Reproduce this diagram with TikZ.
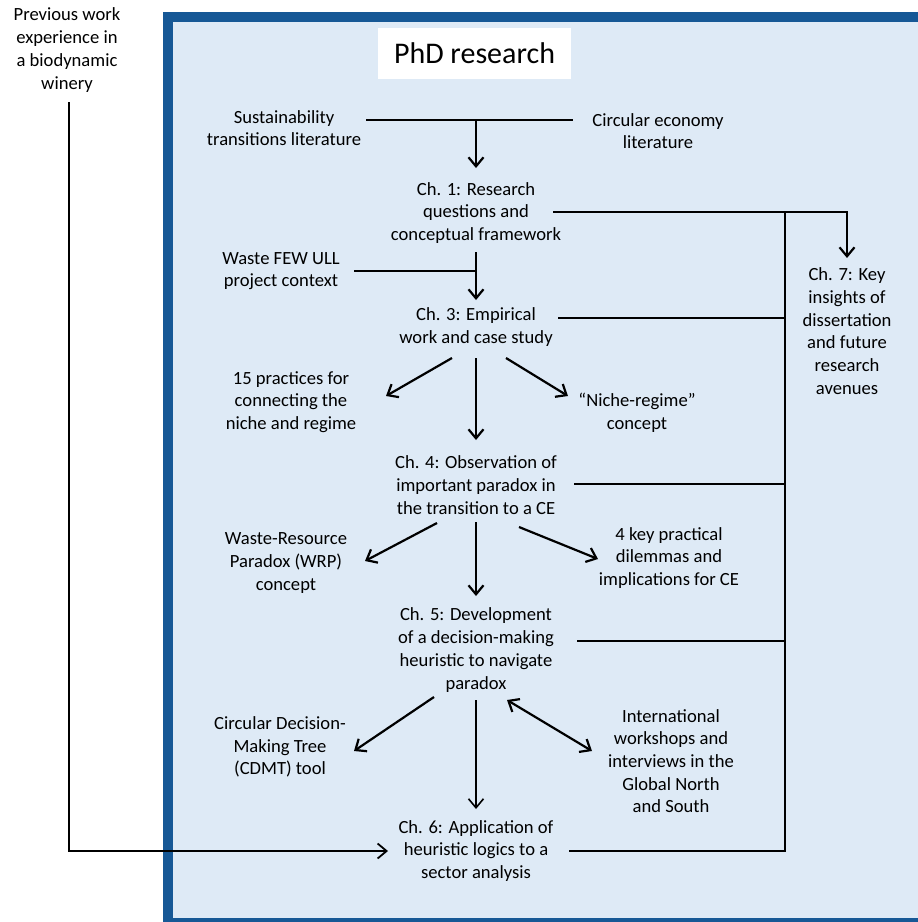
\documentclass[tikz,border=0pt]{standalone}
\usepackage{fontspec}
\setmainfont{Carlito}
\usetikzlibrary{arrows.meta}
\definecolor{frameblue}{RGB}{22,88,150}
\definecolor{framefill}{RGB}{222,234,246}

\begin{document}
\begin{tikzpicture}[x=1pt,y=1pt,
  txt/.style={align=center,font=\fontsize{18.6}{22.7}\selectfont,inner sep=0pt},
  conn/.style={line width=2.2pt},
  arr/.style={conn,-{Straight Barb[length=9pt,width=15pt]}},
  dblarr/.style={conn,{Straight Barb[length=9pt,width=15pt]}-{Straight Barb[length=9pt,width=15pt]}}]
  \useasboundingbox (0,0) rectangle (918,-922);
  \clip (0,0) rectangle (918,-922);
  \def\mx{476}
  % ---------------- frame and title ----------------
  \fill[framefill] (168,-17) rectangle (935,-923);
  \draw[frameblue,line width=10pt] (168,-17) rectangle (935,-923);
  \node[fill=white,minimum width=193,minimum height=51,inner sep=0pt,
        font=\fontsize{30}{36}\selectfont] (title) at (474.5,-53.5) {PhD research};
  % ---------------- nodes ----------------
  \node[txt] (prev)  at (67,-50)   {Previous work\\experience in\\a biodynamic\\winery};
  \node[txt] (sust)  at (284,-128) {Sustainability\\transitions literature};
  \node[txt] (circ)  at (658,-131) {Circular economy\\literature};
  \node[txt] (ch1)   at (\mx,-213) {Ch. 1: Research\\questions and\\conceptual framework};
  \node[txt] (waste) at (281,-271) {Waste FEW ULL\\project context};
  \node[txt] (ch7)   at (847,-331) {Ch. 7: Key\\insights of\\dissertation\\and future\\research\\avenues};
  \node[txt] (ch3)   at (\mx,-327) {Ch. 3: Empirical\\work and case study};
  \node[txt] (prac)  at (291,-402) {15 practices for\\connecting the\\niche and regime};
  \node[txt] (niche) at (637,-413) {“Niche-regime”\\concept};
  \node[txt] (ch4)   at (\mx,-485) {Ch. 4: Observation of\\important paradox in\\the transition to a CE};
  \node[txt] (wrp)   at (286,-563) {Waste-Resource\\Paradox (WRP)\\concept};
  \node[txt] (dilem) at (669,-558) {4 key practical\\dilemmas and\\implications for CE};
  \node[txt] (ch5)   at (\mx,-650) {Ch. 5: Development\\of a decision-making\\heuristic to navigate\\paradox};
  \node[txt] (cdmt)  at (280,-747) {Circular Decision-\\Making Tree\\(CDMT) tool};
  \node[txt] (intl)  at (671,-761) {International\\workshops and\\interviews in the\\Global North\\and South};
  \node[txt] (ch6)   at (\mx,-851) {Ch. 6: Application of\\heuristic logics to a\\sector analysis};
  \coordinate (lit)  at ([yshift=93]ch1.center);
  \coordinate (wjoin) at ([yshift=-58]ch1.center);
  \coordinate (ktop) at (785,-212);
  % ---------------- literature and context ----------------
  \draw[conn] ([shift={(82,8)}]sust.center) -- ([shift={(-85,11)}]circ.center);
  \draw[arr] (lit) -- ([yshift=45]ch1.center);
  \draw[conn] ([xshift=73]waste.center) -- (wjoin);
  % ---------------- main column ----------------
  \foreach \a/\da/\b/\db in {ch1/-39/ch3/27, ch3/-31/ch4/45, ch4/-37/ch5/54}
    \draw[arr] ([yshift=\da]\a.center) -- ([yshift=\db]\b.center);
  \draw[arr,line width=1.6pt] ([yshift=-50]ch5.center) -- ([yshift=42]ch6.center);
  % ---------------- side outputs ----------------
  \foreach \a/\ax/\ay/\b/\bx/\by in {ch3/-24/-31/prac/95/6, ch3/30/-31/niche/-69/17,
      ch4/-39/-38/wrp/79/2, ch4/43/-42/dilem/-71/-1, ch5/-42/-47/cdmt/74/-4}
    \draw[arr] ([shift={(\ax,\ay)}]\a.center) -- ([shift={(\bx,\by)}]\b.center);
  \draw[dblarr] ([shift={(31,-50)}]ch5.center) -- ([shift={(-79,10)}]intl.center);
  % ---------------- links to Ch. 7 ----------------
  \draw[arr] ([shift={(77,1)}]ch1.center) -| ([yshift=73]ch7.center);
  \foreach \n/\dx/\dy in {ch6/93/0, ch5/101/9, ch4/98/1, ch3/82/9}
    \draw[conn] ([shift={(\dx,\dy)}]\n.center) -| (ktop);
  \draw[arr,line width=1.8pt] ([shift={(2,-52)}]prev.center) |- ([xshift=-88]ch6.center);
\end{tikzpicture}
\end{document}
